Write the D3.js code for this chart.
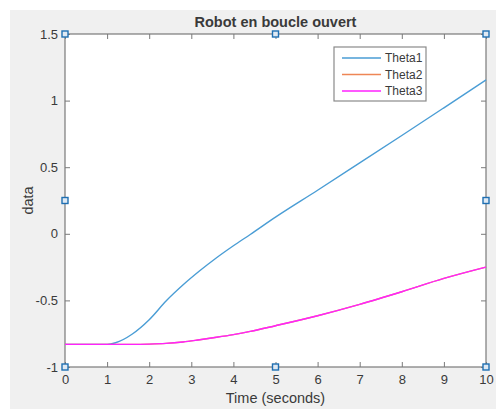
<!DOCTYPE html>
<html>
<head>
<meta charset="utf-8">
<script src="https://cdn.jsdelivr.net/npm/d3@7"></script>
<style>
body { margin: 0; background: #fff; }
text { font-family: "Liberation Sans", Arial, sans-serif; fill: #3a3a3a; }
</style>
</head>
<body>
<script>
var time = [0, 0.5, 1, 1.2, 1.6, 2, 2.4, 2.8, 3.2, 3.6, 4, 4.4, 5, 6, 7, 8, 9, 10];
var theta1 = [-0.83, -0.83, -0.83, -0.818, -0.752, -0.645, -0.505, -0.385, -0.278, -0.18, -0.09, -0.005, 0.125, 0.327, 0.532, 0.738, 0.946, 1.155];
var theta2 = [-0.83, -0.83, -0.83, -0.83, -0.83, -0.828, -0.823, -0.812, -0.795, -0.777, -0.757, -0.733, -0.69, -0.615, -0.53, -0.435, -0.335, -0.25];
var theta3 = [-0.83, -0.83, -0.83, -0.83, -0.83, -0.828, -0.823, -0.812, -0.795, -0.777, -0.757, -0.733, -0.69, -0.615, -0.53, -0.435, -0.335, -0.25];
var seriesNames = ["Theta1", "Theta2", "Theta3"];
var seriesColors = ["#4a9dd5", "#ee8656", "#ff22ff"];
var xTicks = [0, 1, 2, 3, 4, 5, 6, 7, 8, 9, 10];
var yTicks = [-1, -0.5, 0, 0.5, 1, 1.5];
var handles = [[0, 1.5], [5, 1.5], [10, 1.5], [0, 0.25], [10, 0.25], [0, -1], [5, -1], [10, -1]];

var width = 496, height = 409;
var plotLeft = 65, plotRight = 486, plotTop = 34, plotBottom = 367;

var svg = d3.select("body").append("svg")
	.attr("width", width).attr("height", height);

svg.append("rect").attr("x", 10).attr("y", 10)
	.attr("width", width - 10).attr("height", height - 10)
	.attr("fill", "#f0f0f0");
svg.append("rect").attr("x", plotLeft).attr("y", plotTop)
	.attr("width", plotRight - plotLeft).attr("height", plotBottom - plotTop)
	.attr("fill", "#fff");

var xScale = d3.scaleLinear().domain([0, 10]).range([plotLeft, plotRight]);
var yScale = d3.scaleLinear().domain([-1, 1.5]).range([plotBottom, plotTop]);

var axisColor = "#7a7a7a";
function styleAxis(g) {
	g.select(".domain").remove();
	g.selectAll(".tick line").attr("stroke", axisColor);
	g.selectAll(".tick text").attr("font-size", 13).attr("fill", "#3a3a3a")
		.attr("font-family", "Liberation Sans, Arial, sans-serif");
}
var plain = function(d) { return String(d); };

svg.append("g").attr("transform", "translate(0," + plotBottom + ")")
	.call(d3.axisBottom(xScale).tickValues(xTicks).tickSize(-5).tickPadding(8).tickFormat(plain))
	.call(styleAxis);
svg.append("g").attr("transform", "translate(0," + plotTop + ")")
	.call(d3.axisTop(xScale).tickValues(xTicks).tickSize(-5).tickFormat(""))
	.call(styleAxis);
svg.append("g").attr("transform", "translate(" + plotLeft + ",0)")
	.call(d3.axisLeft(yScale).tickValues(yTicks).tickSize(-5).tickPadding(7).tickFormat(plain))
	.call(styleAxis);
svg.append("g").attr("transform", "translate(" + plotRight + ",0)")
	.call(d3.axisRight(yScale).tickValues(yTicks).tickSize(-5).tickFormat(""))
	.call(styleAxis);

svg.append("rect").attr("x", plotLeft).attr("y", plotTop)
	.attr("width", plotRight - plotLeft).attr("height", plotBottom - plotTop)
	.attr("fill", "none").attr("stroke", axisColor).attr("stroke-width", 1.2);

var line = d3.line()
	.x(function(d) { return xScale(d[0]); })
	.y(function(d) { return yScale(d[1]); })
	.curve(d3.curveMonotoneX);

[theta1, theta2, theta3].forEach(function(s, i) {
	svg.append("path")
		.datum(time.map(function(t, j) { return [t, s[j]]; }))
		.attr("d", line)
		.attr("fill", "none")
		.attr("stroke", seriesColors[i])
		.attr("stroke-width", 1.4);
});

svg.selectAll(".handle").data(handles).enter().append("rect")
	.attr("class", "handle")
	.attr("x", function(d) { return xScale(d[0]) - 3; })
	.attr("y", function(d) { return yScale(d[1]) - 3; })
	.attr("width", 6).attr("height", 6)
	.attr("fill", "#dfe9f3").attr("stroke", "#1f6fb2").attr("stroke-width", 1.4);

// legend
var lg = svg.append("g").attr("transform", "translate(334,47)");
lg.append("rect").attr("width", 92).attr("height", 54)
	.attr("fill", "#fff").attr("stroke", "#8a8a8a").attr("stroke-width", 1.2);
seriesNames.forEach(function(name, i) {
	var y = 11 + i * 16.5;
	lg.append("line").attr("x1", 8).attr("x2", 47).attr("y1", y).attr("y2", y)
		.attr("stroke", seriesColors[i]).attr("stroke-width", 1.4);
	lg.append("text").attr("x", 51).attr("y", y + 4).attr("font-size", 12).text(name);
});

svg.append("text").attr("x", (plotLeft + plotRight) / 2).attr("y", 27)
	.attr("text-anchor", "middle").attr("font-size", 14.5).attr("font-weight", "bold")
	.attr("fill", "#1a1a1a").text("Robot en boucle ouvert");
svg.append("text").attr("x", (plotLeft + plotRight) / 2).attr("y", 403)
	.attr("text-anchor", "middle").attr("font-size", 14.5).text("Time (seconds)");
svg.append("text").attr("transform", "translate(33," + yScale(0.25) + ") rotate(-90)")
	.attr("text-anchor", "middle").attr("font-size", 14.5).text("data");
</script>
</body>
</html>
